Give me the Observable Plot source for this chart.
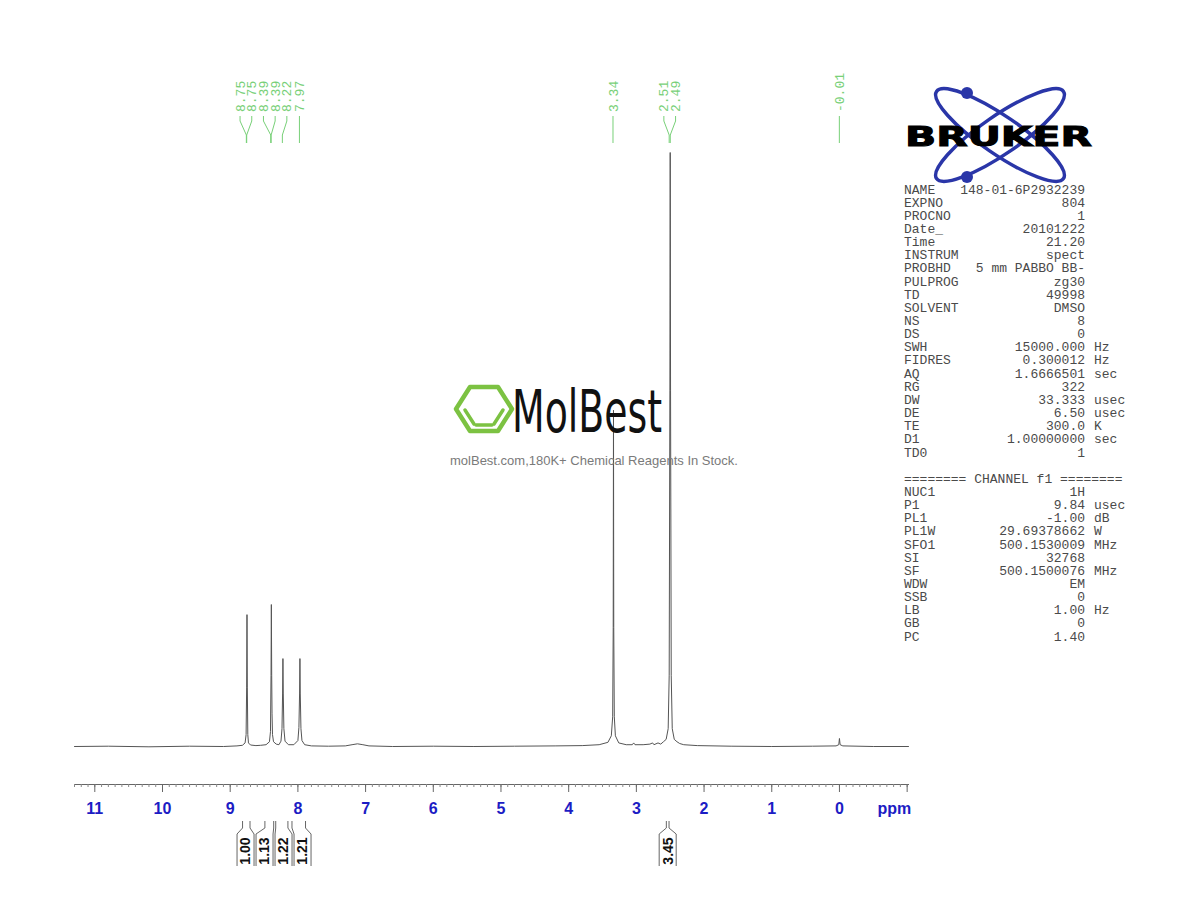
<!DOCTYPE html>
<html>
<head>
<meta charset="utf-8">
<script src="https://cdn.jsdelivr.net/npm/d3@7"></script>
<script src="https://cdn.jsdelivr.net/npm/@observablehq/plot@0.6"></script>
<style>
  html, body { margin: 0; padding: 0; background: #fff; }
  #chart svg { display: block; }
</style>
</head>
<body>
<div id="chart"></div>
<script>
// ---- spectrum (chemical shift in ppm, intensity in % of the 2.50 ppm solvent peak) ----
const specPpm = [11.30, 10.80, 10.20, 9.60, 9.10, 8.90, 8.82, 8.78, 8.765, 8.757, 8.752, 8.747, 8.740, 8.73, 8.70, 8.62, 8.55,
  8.47, 8.42, 8.405, 8.397, 8.392, 8.387, 8.382, 8.375, 8.36, 8.32, 8.28, 8.25, 8.235, 8.226, 8.221, 8.216, 8.207, 8.19, 8.14,
  8.06, 8.00, 7.985, 7.975, 7.970, 7.965, 7.955, 7.94, 7.90, 7.80, 7.55, 7.30, 7.20, 7.12, 7.04, 6.95, 6.60, 6.00, 5.40, 4.80,
  4.20, 3.80, 3.55, 3.42, 3.37, 3.350, 3.342, 3.338, 3.334, 3.326, 3.31, 3.26, 3.15, 3.06, 3.04, 3.02, 2.90, 2.80, 2.76, 2.74,
  2.68, 2.64, 2.60, 2.56, 2.53, 2.515, 2.505, 2.500, 2.495, 2.485, 2.47, 2.44, 2.40, 2.36, 2.30, 2.10, 1.60, 1.00, 0.40, 0.05,
  0.01, 0.000, -0.01, -0.05, -0.50, -1.02];
const specInt = [0.0, 0.05, -0.05, 0.05, 0.0, 0.1, 0.2, 0.6, 2.0, 10, 22.2, 10, 2.0, 0.6, 0.25, 0.15, 0.2,
  0.3, 0.8, 2.5, 12, 23.9, 12, 5.5, 2.0, 0.8, 0.4, 0.3, 0.9, 3.0, 9, 14.8, 9, 3.0, 0.9, 0.3,
  0.3, 1.0, 3.2, 9, 14.8, 9, 3.0, 1.0, 0.3, 0.1, 0.05, 0.1, 0.3, 0.45, 0.3, 0.1, 0.0, 0.05, 0.0, 0.05,
  0.1, 0.15, 0.3, 0.7, 1.8, 5, 20, 56.6, 20, 5, 1.8, 0.6, 0.3, 0.3, 0.6, 0.3, 0.3, 0.4, 0.6, 0.3,
  0.6, 0.4, 0.8, 1.2, 3, 12, 60, 100, 60, 12, 3, 1.2, 0.8, 0.5, 0.3, 0.15, 0.05, 0.0, 0.05, 0.1,
  0.3, 1.35, 0.3, 0.1, 0.0, 0.0];

// ---- peak picking labels ----
const peakLabels = ["8.75", "8.75", "8.39", "8.39", "8.22", "7.97", "3.34", "2.51", "2.49", "-0.01"];
const peakShifts = [8.754, 8.749, 8.394, 8.388, 8.222, 7.970, 3.338, 2.508, 2.492, -0.006];

// ---- integrals ----
const integralValues = ["1.00", "1.13", "1.22", "1.21", "3.45"];
const integralFrom = [8.81, 8.48, 8.32, 8.08, 2.55];
const integralTo = [8.70, 8.35, 8.14, 7.88, 2.51];

// ---- axis ----
const majorTicks = [11, 10, 9, 8, 7, 6, 5, 4, 3, 2, 1, 0, -1];
const axisUnit = "ppm";

// ---- acquisition / processing parameters ----
const paramNames = ["NAME", "EXPNO", "PROCNO", "Date_", "Time", "INSTRUM", "PROBHD", "PULPROG", "TD", "SOLVENT", "NS", "DS",
  "SWH", "FIDRES", "AQ", "RG", "DW", "DE", "TE", "D1", "TD0"];
const paramValues = ["148-01-6P2932239", "804", "1", "20101222", "21.20", "spect", "5 mm PABBO BB-", "zg30", "49998", "DMSO", "8", "0",
  "15000.000", "0.300012", "1.6666501", "322", "33.333", "6.50", "300.0", "1.00000000", "1"];
const paramUnits = ["", "", "", "", "", "", "", "", "", "", "", "",
  "Hz", "Hz", "sec", "", "usec", "usec", "K", "sec", ""];
const channelTitle = "======== CHANNEL f1 ========";
const channelNames = ["NUC1", "P1", "PL1", "PL1W", "SFO1", "SI", "SF", "WDW", "SSB", "LB", "GB", "PC"];
const channelValues = ["1H", "9.84", "-1.00", "29.69378662", "500.1530009", "32768", "500.1500076", "EM", "0", "1.00", "0", "1.40"];
const channelUnits = ["", "usec", "dB", "W", "MHz", "", "MHz", "", "", "Hz", "", ""];

const watermarkName = "MolBest";
const watermarkTagline = "molBest.com,180K+ Chemical Reagents In Stock.";
const logoName = "BRUKER";

// ---- build ----
const spectrum = specPpm.map((p, i) => ({ppm: p, intensity: specInt[i]}));
const minorTicks = d3.range(-10, 114).map(i => i / 10);

const chart = Plot.plot({
  width: 1190,
  height: 920,
  marginLeft: 74,
  marginRight: 282,
  marginTop: 0,
  marginBottom: 136,
  x: {domain: [11.3, -1.02], label: null},
  y: {domain: [0, 100], range: [746, 152], axis: null, label: null},
  style: {background: "white", overflow: "visible"},
  marks: [
    Plot.frame({anchor: "bottom", stroke: "#666"}),
    Plot.axisX({ticks: minorTicks, tickSize: 3, tickFormat: () => "", stroke: "#888", label: null}),
    Plot.axisX({ticks: majorTicks, tickSize: 8, tickPadding: 10, label: null,
      tickFormat: d => d < 0 ? "" : String(d), stroke: "#666", fill: "#1c1cc4",
      fontSize: 16, fontWeight: "bold", fontFamily: "Liberation Sans, Arial, sans-serif"}),
    Plot.text([axisUnit], {x: [-0.81], frameAnchor: "bottom", dy: 18, lineAnchor: "top",
      fill: "#1c1cc4", fontSize: 16, fontWeight: "bold", fontFamily: "Liberation Sans, Arial, sans-serif"}),
    Plot.line(spectrum, {x: "ppm", y: "intensity", stroke: "#555", strokeWidth: 1})
  ]
});
document.getElementById("chart").appendChild(chart);

const X = v => chart.scale("x").apply(v);
const svg = d3.select(chart);

// spread labels so they do not overlap (pixel space)
function spread(centers, gap) {
  let groups = centers.map((c, i) => ({idx: [i], orig: [c]}));
  const place = g => { const m = d3.mean(g.orig); g.start = m - (g.orig.length - 1) / 2 * gap; };
  groups.forEach(place);
  let changed = true;
  while (changed) {
    changed = false;
    for (let k = 0; k < groups.length - 1; k++) {
      const a = groups[k], b = groups[k + 1];
      if (a.start + a.orig.length * gap > b.start + 0.01) {
        const m = {idx: a.idx.concat(b.idx), orig: a.orig.concat(b.orig)};
        place(m);
        groups.splice(k, 2, m);
        changed = true;
        break;
      }
    }
  }
  const out = [];
  groups.forEach(g => g.idx.forEach((i, j) => out[i] = g.start + j * gap));
  return out;
}

// peak labels (top)
const green = "#78d078";
const peakX = peakShifts.map(X);
const labelX = spread(peakX, 11.7);
const gPeaks = svg.append("g");
peakLabels.forEach((t, i) => {
  gPeaks.append("path")
    .attr("d", `M${labelX[i]},116V121L${peakX[i]},135V143`)
    .attr("fill", "none").attr("stroke", green).attr("stroke-width", 1);
  gPeaks.append("text")
    .attr("transform", `translate(${labelX[i]},112) rotate(-90)`)
    .attr("dy", "0.35em")
    .attr("text-anchor", "start")
    .attr("fill", green)
    .attr("font-family", "Liberation Mono, DejaVu Sans Mono, monospace")
    .attr("font-size", 13)
    .text(t);
});

// integrals (below axis)
const gInt = svg.append("g");
const intCenters = integralFrom.map((f, i) => (X(f) + X(integralTo[i])) / 2);
const boxC = spread(intCenters, 19);
integralValues.forEach((t, i) => {
  const xl = X(integralFrom[i]), xr = X(integralTo[i]);
  const bl = boxC[i] - 8.5, br = boxC[i] + 8.5;
  gInt.append("path")
    .attr("d", `M${xl},821V828L${bl},834V866M${xr},821V828L${br},834V866`)
    .attr("fill", "none").attr("stroke", "#666").attr("stroke-width", 1);
  gInt.append("text")
    .attr("transform", `translate(${boxC[i]},851) rotate(-90)`)
    .attr("dy", "0.35em")
    .attr("text-anchor", "middle")
    .attr("fill", "#111")
    .attr("font-weight", "bold")
    .attr("font-family", "Liberation Sans, Arial, sans-serif")
    .attr("font-size", 14)
    .text(t);
});

// MolBest watermark
const gW = svg.append("g");
const hx = [[456, 409], [470, 387], [498, 387], [512, 409], [498, 431], [470, 431]];
gW.append("path")
  .attr("d", "M" + hx.map(p => p.join(",")).join("L") + "Z")
  .attr("fill", "none").attr("stroke", "#7cc242").attr("stroke-width", 4.5).attr("stroke-linejoin", "round");
[[[465, 410], [474, 424]], [[476, 425], [492, 425]], [[494, 424], [503, 410]]].forEach(s => {
  gW.append("line").attr("x1", s[0][0]).attr("y1", s[0][1]).attr("x2", s[1][0]).attr("y2", s[1][1])
    .attr("stroke", "#7cc242").attr("stroke-width", 3.5).attr("stroke-linecap", "round");
});
gW.append("text").attr("x", 512).attr("y", 432).attr("text-anchor", "start")
  .attr("font-family", "DejaVu Sans, sans-serif").attr("font-size", 58)
  .attr("textLength", 150).attr("lengthAdjust", "spacingAndGlyphs")
  .attr("fill", "#111").text(watermarkName);
gW.append("text").attr("x", 594).attr("y", 465).attr("text-anchor", "middle")
  .attr("font-family", "Liberation Sans, Arial, sans-serif").attr("font-size", 13)
  .attr("fill", "#7a7a7a").text(watermarkTagline);

// Bruker logo
const gB = svg.append("g");
const blue = "#2a36a8";
[34.5, -34.5].forEach(a => {
  gB.append("ellipse").attr("cx", 0).attr("cy", 0).attr("rx", 77).attr("ry", 19)
    .attr("transform", `translate(1000,135) rotate(${a})`)
    .attr("fill", "none").attr("stroke", blue).attr("stroke-width", 3.5);
});
gB.append("circle").attr("cx", 967).attr("cy", 93).attr("r", 6).attr("fill", blue);
gB.append("circle").attr("cx", 967).attr("cy", 177).attr("r", 6).attr("fill", blue);
gB.append("text").attr("x", 905).attr("y", 146).attr("text-anchor", "start")
  .attr("font-family", "DejaVu Sans, sans-serif").attr("font-weight", "bold").attr("font-size", 27)
  .attr("stroke", "#000").attr("stroke-width", 1)
  .attr("textLength", 187).attr("lengthAdjust", "spacingAndGlyphs")
  .attr("fill", "#000").text(logoName);

// parameter panel
const gP = svg.append("g")
  .attr("font-family", "Liberation Mono, DejaVu Sans Mono, monospace")
  .attr("font-size", 13).attr("fill", "#4a4a4a").attr("text-anchor", "start")
  .attr("xml:space", "preserve").style("white-space", "pre");
const step = 13.15;
function row(y, name, value, unit) {
  gP.append("text").attr("x", 904).attr("y", y).attr("text-anchor", "start").text(name);
  gP.append("text").attr("x", 1085).attr("y", y).attr("text-anchor", "end").text(value);
  if (unit) gP.append("text").attr("x", 1094).attr("y", y).attr("text-anchor", "start").text(unit);
}
paramNames.forEach((n, i) => row(193.5 + i * step, n, paramValues[i], paramUnits[i]));
const y0 = 193.5 + (paramNames.length + 1) * step;
gP.append("text").attr("x", 904).attr("y", y0).attr("text-anchor", "start").text(channelTitle);
channelNames.forEach((n, i) => row(y0 + (i + 1) * step, n, channelValues[i], channelUnits[i]));
</script>
</body>
</html>
